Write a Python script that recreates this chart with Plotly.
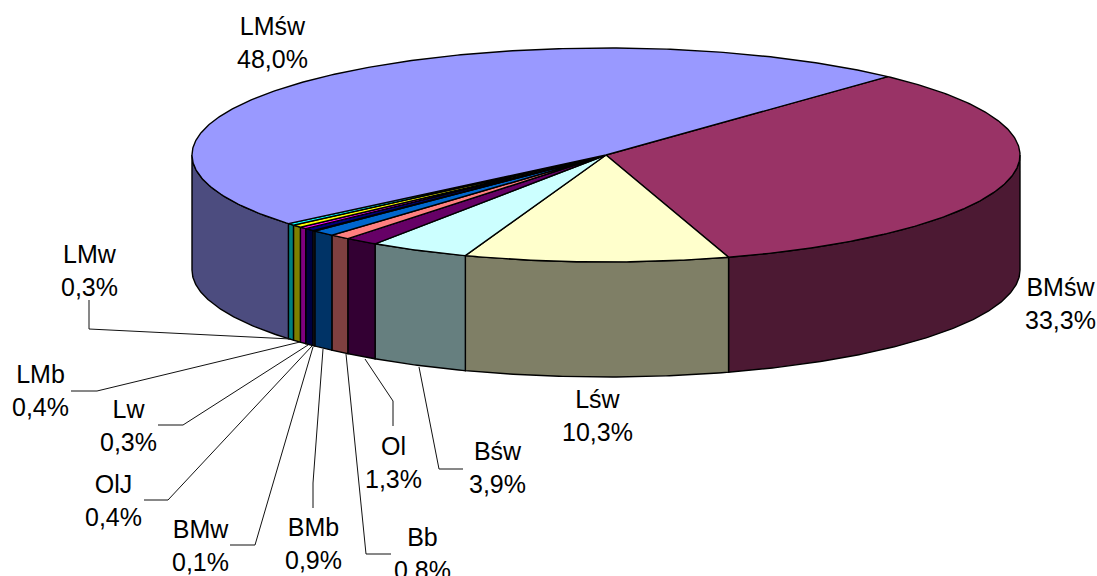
import numpy as np
import plotly.graph_objects as go

# Data
labels = ["BMśw", "Lśw", "Bśw", "Ol", "Bb", "BMb", "BMw", "OlJ", "Lw", "LMb", "LMw", "LMśw"]
values = [33.3, 10.3, 3.9, 1.3, 0.8, 0.9, 0.1, 0.4, 0.3, 0.4, 0.3, 48.0]
colors = ["#993366", "#FFFFCC", "#CCFFFF", "#660066", "#FF8080", "#0066CC",
          "#CCCCFF", "#000080", "#FF00FF", "#FFFF00", "#00FFFF", "#9999FF"]

# Layout of the drawing (pixel space)
W, H = 1097, 576
CX, CY, RX, RY, DEPTH = 606, 155, 414, 107, 115
START_DEG = 47.1
label_pos = {
    "BMśw": (1060, 303), "Lśw": (597, 415), "Bśw": (497, 467), "Ol": (393, 462),
    "Bb": (422, 553), "BMb": (313, 543), "BMw": (200, 545), "OlJ": (113, 500),
    "Lw": (128, 425), "LMb": (40, 390), "LMw": (89, 270), "LMśw": (272, 42),
}
leaders = [
    [(89, 300), (89, 329), (291, 339)],
    [(71, 391), (97, 391), (300, 342)],
    [(158, 425), (183, 425), (308, 345)],
    [(144, 500), (168, 500), (312, 346)],
    [(230, 545), (255, 545), (313, 347)],
    [(313, 508), (313, 483), (323, 349)],
    [(391, 554), (366, 554), (346, 354)],
    [(393, 426), (393, 401), (365, 359)],
    [(463, 469), (439, 469), (419, 367)],
]
LINE = "#000000"


def darker(hex_color):
    r, g, b = (int(hex_color[i:i + 2], 16) // 2 for i in (1, 3, 5))
    return f"rgb({r},{g},{b})"


def arc(a1, a2, dz=0.0):
    n = max(2, int(abs(a2 - a1) * 2) + 2)
    t = np.radians(np.linspace(a1, a2, n))
    return CX + RX * np.cos(t), CY - RY * np.sin(t) + dz


fig = go.Figure()


def face(x, y, color):
    fig.add_trace(go.Scatter(
        x=list(x) + [x[0]], y=list(y) + [y[0]], mode="lines", fill="toself",
        fillcolor=color, line=dict(color=LINE, width=1.4),
        hoverinfo="skip", showlegend=False))


# Slice angles, clockwise from the start angle
fractions = np.array(values) / sum(values)
edges = START_DEG - 360 * np.concatenate([[0], np.cumsum(fractions)])
slices = list(zip(colors, edges[:-1], edges[1:]))

# Side walls: only the front half (angles between -180 and 0) shows
for color, a1, a2 in slices:
    lo, hi = max(a2, -180), min(a1, 0)
    if lo < hi:
        xt, yt = arc(hi, lo)
        xb, yb = arc(lo, hi, DEPTH)
        face(np.r_[xt, xb], np.r_[yt, yb], darker(color))

# Top faces
for color, a1, a2 in slices:
    xt, yt = arc(a1, a2)
    face(np.r_[CX, xt], np.r_[CY, yt], color)

# Leader lines
for pts in leaders:
    fig.add_trace(go.Scatter(
        x=[p[0] for p in pts], y=[p[1] for p in pts], mode="lines",
        line=dict(color="#111111", width=1), hoverinfo="skip", showlegend=False))

# Labels
for name, val in zip(labels, values):
    x, y = label_pos[name]
    fig.add_annotation(
        x=x, y=y, xref="x", yref="y", showarrow=False, align="center",
        text=f"{name}<br>{val:.1f}%".replace(".", ","),
        font=dict(family="Liberation Sans, Arial, sans-serif", size=25, color="#000000"))

axis = dict(visible=False, fixedrange=True)
fig.update_layout(
    width=W, height=H, margin=dict(l=0, r=0, t=0, b=0),
    paper_bgcolor="white", plot_bgcolor="white", showlegend=False,
    xaxis=dict(range=[0, W], **axis),
    yaxis=dict(range=[H, 0], **axis),
)
fig.write_html("out.html", config={"displayModeBar": False},
               post_script="document.body.style.margin='0';document.body.style.overflow='hidden';")
